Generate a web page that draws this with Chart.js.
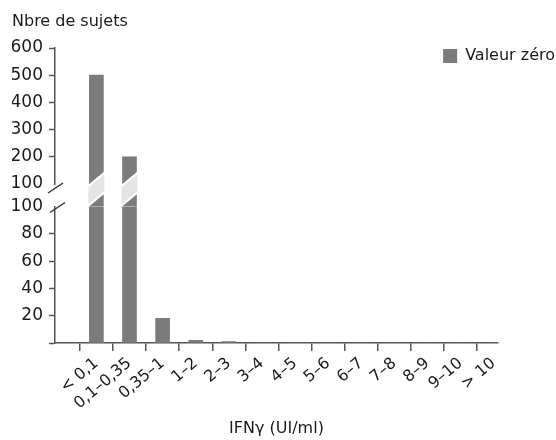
<!DOCTYPE html>
<html lang="fr">
<head>
<meta charset="utf-8">
<title>Nbre de sujets</title>
<script src="https://cdn.jsdelivr.net/npm/chart.js@4"></script>
<style>
  html, body { margin: 0; padding: 0; background: #fff; }
</style>
</head>
<body>
<canvas id="chart" width="556" height="440"></canvas>
<script>
// classes d'IFN-gamma et nombre de sujets par classe
const categories = ['< 0,1', '0,1–0,35', '0,35–1', '1–2', '2–3', '3–4', '4–5', '5–6', '6–7', '7–8', '8–9', '9–10', '> 10'];
const sujets = [500, 200, 18, 2, 1, 0, 0, 0, 0, 0, 0, 0, 0];

// graduations des deux tronçons de l'axe coupé
const ticksHaut = [100, 200, 300, 400, 500, 600];
const ticksBas = [0, 20, 40, 60, 80, 100];
const coupure = 100;

const gris = '#7b7b7b';
const trait = '#555';
const texte = '#1a1a1a';
const police = "'DejaVu Sans', sans-serif";

const bas = sujets.map((v, i) => ({x: i, y: Math.min(v, coupure)}));
const pont = sujets.map((v, i) => v > coupure ? {x: i, y: [0, 1]} : null).filter(Boolean);
const haut = sujets.map((v, i) => v > coupure ? {x: i, y: [coupure, v]} : null).filter(Boolean);

const barre = {backgroundColor: gris, borderWidth: 0, barThickness: 14, grouped: false};

// double barre oblique sur l'axe et sur les barres coupées
const coupurePlugin = {
  id: 'coupure',
  afterDatasetsDraw(chart) {
    const {ctx, chartArea, scales} = chart;
    const yP = scales.yPont, yH = scales.yHaut, yB = scales.yBas;
    const pente = 0.83;
    ctx.save();
    chart.getDatasetMeta(1).data.forEach(bar => {
      const hw = bar.width / 2 + 1;
      const y1 = yP.top - 4.5, y2 = yP.bottom - 7.5;
      ctx.beginPath();
      ctx.moveTo(bar.x - hw, y1 + pente * hw);
      ctx.lineTo(bar.x + hw, y1 - pente * hw);
      ctx.lineTo(bar.x + hw, y2 - pente * hw);
      ctx.lineTo(bar.x - hw, y2 + pente * hw);
      ctx.closePath();
      ctx.fillStyle = '#e4e4e4';
      ctx.fill();
      ctx.strokeStyle = '#fff';
      ctx.lineWidth = 2;
      [y1, y2].forEach(y => {
        ctx.beginPath();
        ctx.moveTo(bar.x - hw, y + pente * hw);
        ctx.lineTo(bar.x + hw, y - pente * hw);
        ctx.stroke();
      });
    });
    ctx.strokeStyle = '#333';
    ctx.lineWidth = 1.5;
    const x0 = chartArea.left;
    [[x0 + 0.5, yH.bottom + 4], [x0 + 2.5, yB.top + 1]].forEach(([cx, cy]) => {
      ctx.beginPath();
      ctx.moveTo(cx - 7.5, cy + 5);
      ctx.lineTo(cx + 7.5, cy - 5);
      ctx.stroke();
    });
    ctx.restore();
  }
};

// la légende ne réserve qu'une ligne dans la mise en page et déborde sur la zone du graphique
const legendeLibre = {
  id: 'legendeLibre',
  afterLayout(chart) {
    const lg = chart.legend;
    if (lg) {
      lg.height = 24;
      lg.bottom = lg.top + 24;
    }
  }
};

const axeY = (weight, min, max, ticks) => ({
  type: 'linear',
  position: 'left',
  stack: 'y',
  stackWeight: weight,
  min: min,
  max: max,
  afterBuildTicks: s => { s.ticks = ticks.map(v => ({value: v})); },
  afterFit: s => { s.width = 43; },
  grid: {
    drawOnChartArea: false,
    tickLength: 6,
    tickWidth: 1.5,
    tickColor: c => c.tick && c.tick.value === coupure ? 'rgba(0,0,0,0)' : trait
  },
  border: {color: trait, width: 1.5},
  ticks: {
    autoSkip: false,
    padding: 6,
    color: texte,
    font: {family: police, size: 17},
    callback: v => v === 0 ? '' : v
  }
});

new Chart(document.getElementById('chart'), {
  type: 'bar',
  data: {
    datasets: [
      {label: 'Valeur zéro', data: bas, yAxisID: 'yBas', ...barre},
      {label: 'pont', data: pont, yAxisID: 'yPont', ...barre},
      {label: 'haut', data: haut, yAxisID: 'yHaut', ...barre}
    ]
  },
  options: {
    responsive: false,
    animation: false,
    layout: {padding: {left: 12, top: 0, right: 0, bottom: 0}},
    scales: {
      x: {
        type: 'linear',
        offset: false,
        min: -1.25,
        max: 12.13,
        afterBuildTicks: s => { s.ticks = categories.map((c, i) => ({value: i})); },
        afterFit: s => { s.height = 97; s.paddingLeft = 0; s.paddingRight = 58; },
        grid: {offset: true, drawOnChartArea: false, tickLength: 8, color: trait, lineWidth: 1.5},
        border: {color: trait, width: 1.5},
        ticks: {
          autoSkip: false,
          minRotation: 40,
          maxRotation: 40,
          padding: 3,
          color: texte,
          font: {family: police, size: 16},
          callback: v => categories[v]
        },
        title: {
          display: true,
          text: 'IFNγ (UI/ml)',
          color: texte,
          font: {family: police, size: 16},
          padding: {top: 0, bottom: 2}
        }
      },
      yBas: axeY(136.5, 0, coupure, ticksBas),
      yPont: {type: 'linear', position: 'left', stack: 'y', stackWeight: 22.5, min: 0, max: 1, display: false, afterFit: s => { s.width = 43; }},
      yHaut: axeY(136, coupure, 600, ticksHaut)
    },
    plugins: {
      title: {
        display: true,
        text: 'Nbre de sujets',
        align: 'start',
        color: texte,
        font: {family: police, size: 16, weight: 'normal'},
        padding: {top: 12, bottom: 15.8}
      },
      legend: {
        position: 'top',
        align: 'end',
        maxHeight: 1,
        labels: {
          boxWidth: 14,
          boxHeight: 14,
          padding: 1,
          color: texte,
          font: {family: police, size: 16},
          filter: item => item.datasetIndex === 0
        }
      },
      tooltip: {enabled: false}
    }
  },
  plugins: [coupurePlugin, legendeLibre]
});
</script>
</body>
</html>
